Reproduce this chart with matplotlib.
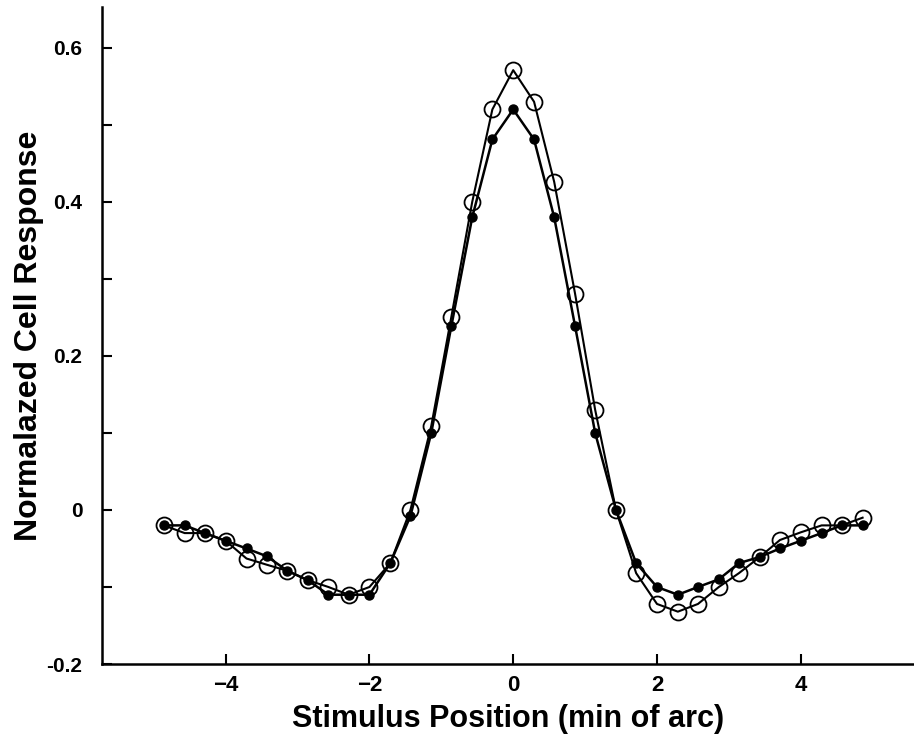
import numpy as np
import matplotlib.pyplot as plt

plt.rcParams['font.family'] = ['Liberation Sans', 'DejaVu Sans']
plt.rcParams['font.weight'] = 'bold'

# stimulus positions (min of arc)
x_pos = [-4.86, -4.57, -4.29, -4.00, -3.71, -3.43, -3.14, -2.86, -2.57, -2.29,
         -2.00, -1.71, -1.43, -1.14, -0.86, -0.57, -0.29, 0.00, 0.29, 0.57,
         0.86, 1.14, 1.43, 1.71, 2.00, 2.29, 2.57, 2.86, 3.14, 3.43,
         3.71, 4.00, 4.29, 4.57, 4.86]

# open circles
resp_open = [-0.020, -0.030, -0.030, -0.040, -0.063, -0.071, -0.079, -0.091, -0.100, -0.110,
             -0.100, -0.069, 0.000, 0.109, 0.251, 0.400, 0.520, 0.571, 0.530, 0.426,
             0.281, 0.130, 0.000, -0.082, -0.122, -0.132, -0.122, -0.100, -0.082, -0.061,
             -0.039, -0.029, -0.020, -0.020, -0.010]

# filled dots
resp_filled = [-0.020, -0.020, -0.030, -0.040, -0.050, -0.060, -0.079, -0.091, -0.110, -0.110,
               -0.110, -0.069, -0.008, 0.100, 0.239, 0.380, 0.481, 0.520, 0.481, 0.380,
               0.239, 0.100, 0.000, -0.069, -0.100, -0.110, -0.100, -0.090, -0.069, -0.061,
               -0.050, -0.040, -0.030, -0.020, -0.020]

x_ticks = [-4, -2, 0, 2, 4]
x_ticklabels = ['\u22124', '\u22122', '0', '2', '4']
y_ticks = [-0.2, 0, 0.2, 0.4, 0.6]
y_ticklabels = ['-0.2', '0', '0.2', '0.4', '0.6']
y_minor = [-0.1, 0.1, 0.3, 0.5]

fig = plt.figure(figsize=(9.14, 7.37), dpi=100)
ax = fig.add_axes([0.1116, 0.099, 0.888, 0.8915])

ax.plot(x_pos, resp_open, color='black', lw=1.5, marker='o', ms=11.5,
        mfc='none', mec='black', mew=1.3)
ax.plot(x_pos, resp_filled, color='black', lw=1.8, marker='o', ms=6.5,
        mfc='black', mec='black')

ax.set_xlim(-5.72, 5.57)
ax.set_ylim(-0.2, 0.653)

ax.spines['top'].set_visible(False)
ax.spines['right'].set_visible(False)
ax.spines['left'].set_linewidth(1.8)
ax.spines['bottom'].set_linewidth(1.8)

ax.set_xticks(x_ticks)
ax.set_xticklabels(x_ticklabels, fontsize=16, fontweight='bold')
ax.set_yticks(y_ticks)
ax.set_yticklabels(y_ticklabels, fontsize=15, fontweight='bold')
ax.set_yticks(y_minor, minor=True)
ax.tick_params(axis='both', which='both', direction='in', length=7, width=1.5)
ax.tick_params(axis='y', which='major', pad=14)
ax.tick_params(axis='x', which='major', pad=8)

ax.set_xlabel('Stimulus Position (min of arc)', fontsize=22, fontweight='bold', labelpad=6)
ax.set_ylabel('Normalazed Cell Response', fontsize=23, fontweight='bold', labelpad=2)

fig.savefig('out.png', dpi=100)
